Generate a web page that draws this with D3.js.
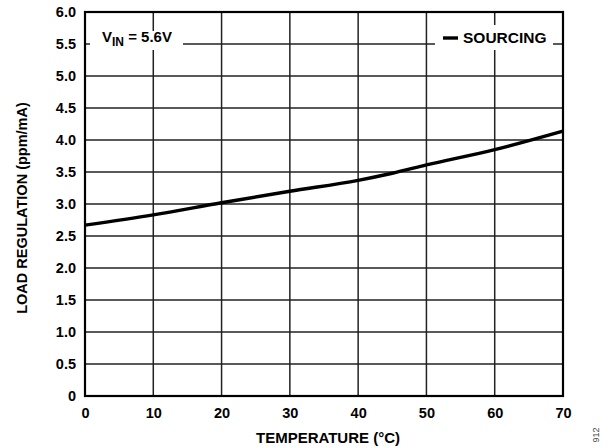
<!DOCTYPE html>
<html>
<head>
<meta charset="utf-8">
<script src="https://cdn.jsdelivr.net/npm/d3@7"></script>
<style>
  body { margin: 0; background: #fff; }
  text { font-family: "Liberation Sans", Arial, sans-serif; font-weight: bold; fill: #000; }
</style>
</head>
<body>
<div id="chart"></div>
<script>
var temps = [0, 10, 20, 30, 40, 45, 50, 60, 70];
var sourcing = [2.67, 2.83, 3.02, 3.20, 3.37, 3.48, 3.61, 3.85, 4.14];
var xTicks = [0, 10, 20, 30, 40, 50, 60, 70];
var yTicks = [0, 0.5, 1.0, 1.5, 2.0, 2.5, 3.0, 3.5, 4.0, 4.5, 5.0, 5.5, 6.0];

var margin = {top: 12, right: 50, bottom: 52, left: 85},
    width = 613 - margin.left - margin.right,
    height = 448 - margin.top - margin.bottom;

var svg = d3.select("#chart").append("svg")
    .attr("width", 613)
    .attr("height", 448);
var g = svg.append("g")
    .attr("transform", "translate(" + margin.left + "," + margin.top + ")");

var x = d3.scaleLinear().domain([0, 70]).range([0, width]);
var y = d3.scaleLinear().domain([0, 6]).range([height, 0]);

// grid
g.append("g").selectAll("line.v")
    .data(xTicks).enter().append("line")
    .attr("x1", function (d) { return x(d); })
    .attr("x2", function (d) { return x(d); })
    .attr("y1", 0).attr("y2", height)
    .attr("stroke", "#222").attr("stroke-width", 1.5);
g.append("g").selectAll("line.h")
    .data(yTicks).enter().append("line")
    .attr("x1", 0).attr("x2", width)
    .attr("y1", function (d) { return y(d); })
    .attr("y2", function (d) { return y(d); })
    .attr("stroke", "#222").attr("stroke-width", 1.5);

// tick labels
var xAxis = d3.axisBottom(x).tickValues(xTicks).tickSize(0).tickPadding(12)
    .tickFormat(d3.format("d"));
var gx = g.append("g").attr("transform", "translate(0," + height + ")").call(xAxis);
gx.select(".domain").remove();
gx.selectAll("text").style("font-size", "14.5px").style("font-family", "Liberation Sans, Arial, sans-serif").style("font-weight", "bold");

var yAxis = d3.axisLeft(y).tickValues(yTicks).tickSize(0).tickPadding(9)
    .tickFormat(function (d) { return d === 0 ? "0" : d3.format(".1f")(d); });
var gy = g.append("g").call(yAxis);
gy.select(".domain").remove();
gy.selectAll("text").style("font-size", "14.5px").style("font-family", "Liberation Sans, Arial, sans-serif").style("font-weight", "bold");

// frame
g.append("rect")
    .attr("width", width).attr("height", height)
    .attr("fill", "none").attr("stroke", "#000").attr("stroke-width", 2.2);

// curve
var line = d3.line()
    .x(function (d, i) { return x(temps[i]); })
    .y(function (d) { return y(d); })
    .curve(d3.curveMonotoneX);
g.append("path")
    .datum(sourcing)
    .attr("d", line)
    .attr("fill", "none")
    .attr("stroke", "#000")
    .attr("stroke-width", 3.4);

// legend boxes
var lg = g.append("g");
lg.append("rect").attr("x", 5).attr("y", 19).attr("width", 93).attr("height", 19).attr("fill", "#fff");
var vin = lg.append("text").attr("x", 17).attr("y", 30).style("font-size", "15px");
vin.append("tspan").text("V");
vin.append("tspan").text("IN").attr("dy", 3.5).style("font-size", "12px");
vin.append("tspan").text(" = 5.6V").attr("dy", -3.5);

lg.append("rect").attr("x", 350).attr("y", 13).attr("width", 118).attr("height", 25).attr("fill", "#fff");
lg.append("line")
    .attr("x1", 358).attr("x2", 373)
    .attr("y1", y(5.5) - 6).attr("y2", y(5.5) - 6)
    .attr("stroke", "#000").attr("stroke-width", 3.4);
lg.append("text").attr("x", 378).attr("y", 31).style("font-size", "15.5px").text("SOURCING");

// titles
svg.append("text")
    .attr("x", 328).attr("y", 443)
    .attr("text-anchor", "middle").style("font-size", "15px")
    .text("TEMPERATURE (°C)");
svg.append("text")
    .attr("transform", "translate(27,208) rotate(-90)")
    .attr("text-anchor", "middle").style("font-size", "14.5px")
    .text("LOAD REGULATION (ppm/mA)");
svg.append("text")
    .attr("transform", "translate(599,435) rotate(-90)")
    .attr("text-anchor", "middle")
    .style("font-size", "9px").style("font-weight", "normal").style("fill", "#444")
    .text("912");
</script>
</body>
</html>
